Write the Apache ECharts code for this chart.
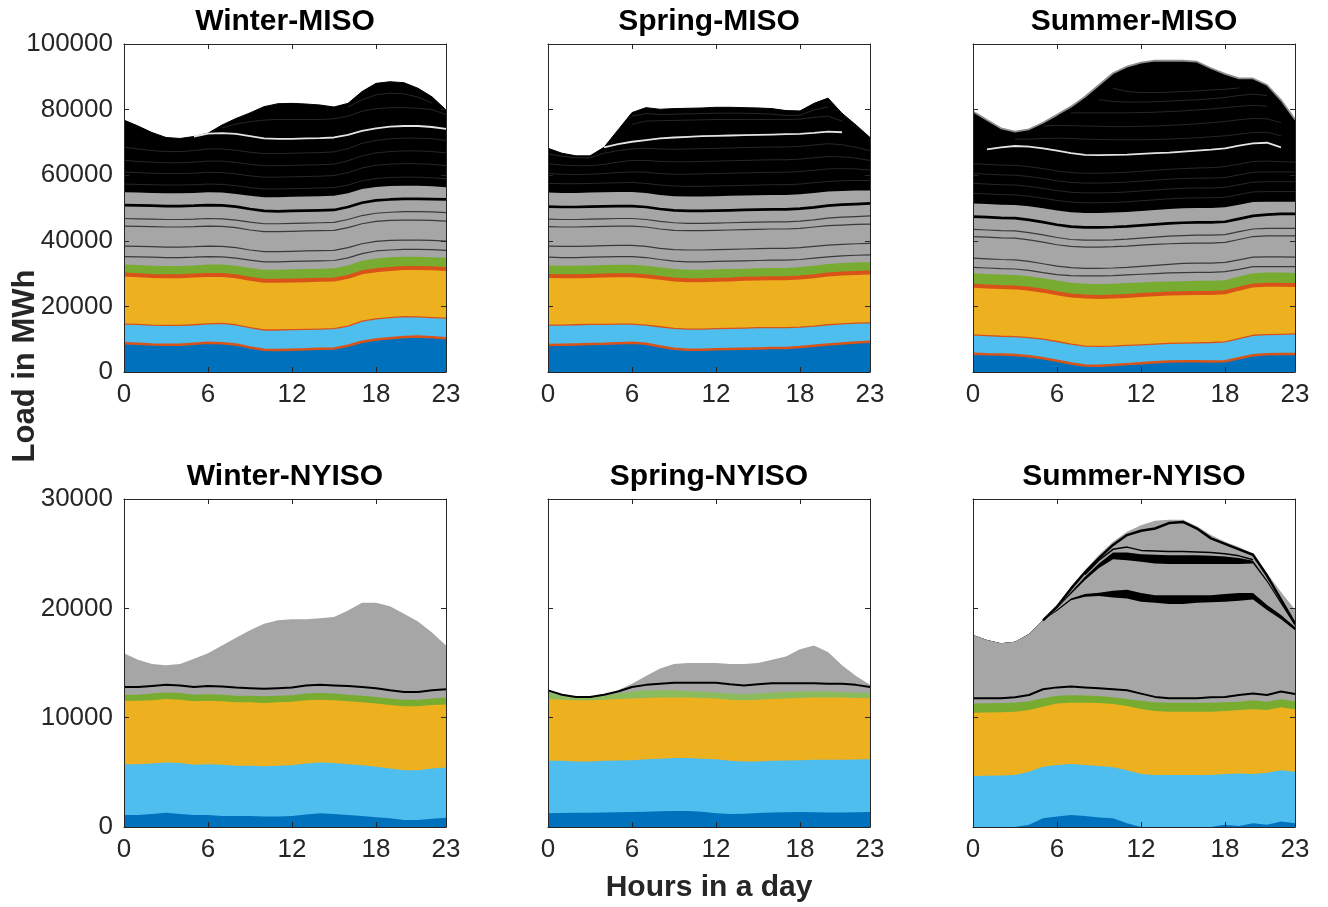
<!DOCTYPE html>
<html><head><meta charset="utf-8">
<script src="https://cdn.jsdelivr.net/npm/echarts@6/dist/echarts.min.js"></script>
<style>html,body{margin:0;padding:0;background:#fff}#c{width:1328px;height:907px}</style>
</head><body><div id="c"></div>
<script>
// ---------- axes / ticks ----------
const hours = ['0','1','2','3','4','5','6','7','8','9','10','11','12','13','14','15','16','17','18','19','20','21','22','23'];
const xTickLabels = ['0','6','12','18','23'];
const misoYMax = 100000, misoYStep = 20000;
const nyisoYMax = 30000, nyisoYStep = 10000;
const titles = ['Winter-MISO','Spring-MISO','Summer-MISO','Winter-NYISO','Spring-NYISO','Summer-NYISO'];
const xAxisTitle = 'Hours in a day';
const yAxisTitle = 'Load in MWh';

// ---------- Winter-MISO (cumulative levels, MWh) ----------
const wmTop = [76800,75000,73000,71500,71200,71800,72800,75300,77300,79000,80900,81800,81900,81700,81400,80800,81900,85500,88000,88500,88200,86500,83900,79900];
const wmWhite = [null,null,null,null,null,71800,72700,72800,72600,71900,71200,71100,71100,71200,71300,71500,72300,73500,74300,74800,75000,75000,74700,74100];
const wmF6 = [null,null,null,null,null,null,null,null,null,null,null,null,null,null,null,null,80800,83000,84500,85000,84800,83800,82000,null];
const wmF5 = [null,null,null,null,null,null,null,74400,75600,76300,76800,77000,77000,77000,77000,77200,78000,79500,80300,80600,80600,80400,80000,78500];
const wmF4 = [68500,68000,67500,67200,67200,67500,68000,68000,67600,67000,66600,66600,66700,66800,66900,67100,68100,69700,70600,71100,71300,71300,71100,70600];
const wmF3 = [64500,64200,64000,63800,63800,64000,64300,64300,63900,63300,62900,62900,63000,63100,63200,63400,64400,65900,66800,67200,67400,67400,67200,66800];
const wmF2 = [61000,60800,60600,60500,60500,60600,60900,60800,60400,59800,59400,59400,59500,59600,59700,59900,60800,62200,63000,63400,63500,63500,63300,62900];
const wmF1 = [57300,57200,57100,57000,57000,57100,57300,57200,56800,56200,55800,55800,55900,56000,56100,56200,57000,58300,59000,59300,59400,59400,59200,58900];
const wmGrayTop = [54800,54700,54600,54500,54500,54600,54800,54700,54300,53700,53300,53300,53400,53500,53600,53700,54500,55800,56400,56700,56800,56800,56600,56300];
const wmThick = [50900,50800,50700,50600,50600,50700,50900,50800,50400,49700,49100,49000,49100,49200,49300,49400,50300,51600,52300,52600,52800,52800,52700,52600];
const wmG4 = [46800,46700,46600,46500,46500,46600,46800,46700,46300,45700,45200,45200,45300,45400,45500,45600,46500,47700,48400,48700,48900,48900,48800,48600];
const wmG3 = [44500,44400,44300,44200,44200,44300,44500,44400,44000,43300,42800,42800,42900,43000,43100,43200,44000,45200,45900,46200,46300,46300,46200,46000];
const wmG2 = [38400,38300,38200,38100,38100,38200,38400,38300,37900,37200,36700,36700,36800,36900,37000,37100,37900,39100,39800,40100,40200,40200,40100,39900];
const wmG1 = [35200,35100,35000,34900,34900,35000,35200,35100,34700,34100,33600,33600,33700,33800,33900,34000,34800,36100,36900,37200,37400,37400,37300,37100];
const wmGreen = [32800,32600,32400,32300,32300,32500,32800,32800,32400,31700,31200,31200,31300,31400,31500,31600,32500,33900,34600,35000,35100,35100,35000,34800];
const wmOrange = [29700,29500,29300,29200,29200,29400,29600,29600,29200,28400,27800,27800,27900,28000,28100,28200,29000,30400,31000,31400,31700,31700,31600,31400];
const wmLightBlue = [14600,14500,14300,14200,14200,14400,14700,14800,14400,13500,12800,12800,12900,13000,13100,13200,14000,15500,16200,16600,16900,16800,16600,16400];
const wmDarkBlue = [8800,8600,8400,8300,8300,8600,8900,8800,8400,7500,6800,6700,6800,6900,7100,7200,8000,9200,9900,10300,10700,10800,10600,10300];

// ---------- Spring-MISO ----------
const smTop = [68200,66700,65900,65900,68500,73800,79100,80600,80100,80300,80400,80500,80700,80700,80600,80500,80300,79700,79600,81900,83500,78900,75300,71500];
const smWhite = [null,null,null,null,68500,69500,70200,70700,71200,71500,71700,71900,72000,72100,72200,72300,72400,72500,72600,72900,73300,73100,null,null];
const smF6 = [null,null,null,null,null,null,78000,78800,78500,78600,78700,78800,78900,78900,78900,78800,78600,78200,78300,79900,80800,null,null,null];
const smF5 = [null,null,null,null,null,null,75500,76500,76600,76700,76800,76900,77000,77000,77000,77000,77000,77000,77100,77600,78000,76500,null,null];
const smF4 = [66500,65800,65300,65300,66700,67500,68000,68200,68000,67900,68000,68100,68200,68300,68400,68500,68600,68600,68800,69200,69600,69300,68500,67500];
const smF3 = [63500,63100,62900,62900,63300,64000,64500,64500,64200,64100,64100,64200,64300,64400,64500,64600,64700,64700,64900,65300,65700,65600,65200,64500];
const smF2 = [60500,60300,60200,60300,60500,60800,61000,60900,60500,60300,60300,60400,60500,60600,60700,60800,60900,60900,61100,61500,61900,62000,61900,61600];
const smF1 = [57500,57400,57400,57500,57600,57700,57800,57500,57000,56700,56600,56600,56700,56800,56900,57000,57100,57100,57300,57700,58100,58300,58400,58400];
const smGrayTop = [54700,54600,54600,54700,54800,54900,54900,54600,54000,53600,53500,53500,53600,53700,53800,53900,54000,54000,54200,54600,55000,55200,55300,55300];
const smThick = [50400,50300,50300,50400,50500,50600,50600,50300,49700,49300,49100,49100,49200,49300,49400,49500,49600,49600,49800,50200,50700,51000,51200,51400];
const smG4 = [46600,46500,46500,46600,46700,46800,46800,46500,45900,45500,45300,45300,45400,45500,45600,45700,45800,45800,46000,46400,46900,47200,47400,47600];
const smG3 = [44300,44200,44200,44300,44400,44500,44500,44200,43600,43200,43100,43100,43200,43300,43400,43500,43600,43600,43800,44200,44600,44800,45000,45100];
const smG2 = [38400,38300,38300,38400,38500,38600,38600,38300,37700,37300,37200,37200,37300,37400,37500,37600,37700,37700,37900,38300,38700,38900,39100,39200];
const smG1 = [35000,34900,34900,35000,35100,35200,35200,34900,34300,33800,33600,33600,33700,33800,33900,34000,34100,34100,34300,34700,35100,35400,35600,35700];
const smGreen = [32500,32400,32400,32500,32600,32700,32700,32400,31900,31400,31200,31200,31300,31400,31500,31600,31700,31700,32000,32400,32900,33200,33400,33500];
const smOrange = [29300,29200,29200,29300,29400,29500,29500,29200,28700,28200,28000,28000,28100,28200,28400,28500,28600,28600,28800,29200,29700,30000,30200,30300];
const smLightBlue = [14300,14300,14400,14500,14500,14600,14600,14300,13800,13300,13100,13100,13200,13300,13400,13500,13500,13500,13700,14000,14400,14700,14900,15000];
const smDarkBlue = [8200,8300,8400,8500,8600,8800,8900,8600,7800,7100,6800,6800,6900,7000,7100,7200,7300,7300,7600,8000,8400,8700,9000,9200];

// ---------- Summer-MISO ----------
const umTop = [79400,76800,74300,73300,74000,76000,78400,80900,83900,87500,91100,93100,94300,94900,94900,94900,94600,92600,90900,89500,89500,87500,82900,77000];
const umF9 = [null,null,null,null,null,null,null,null,null,null,86500,85500,85200,85200,85300,85500,85700,86000,86200,86600,null,null,null,null];
const umF8 = [null,null,null,null,null,null,null,null,null,83000,82500,82300,82300,82400,82600,82800,83000,83300,83700,84300,84700,84300,null,null];
const umF7 = [null,null,null,null,null,null,null,79000,79000,79000,79000,79000,79100,79200,79400,79600,79900,80200,80600,81000,81300,81000,null,null];
const umF6 = [null,null,null,null,null,75000,75200,75100,75000,74900,74800,74800,74900,75000,75200,75400,75700,76000,76400,76900,77300,77200,76000,null];
const umF5 = [null,null,null,71000,71000,71200,71300,71200,71000,70900,70800,70800,70800,70900,71000,71200,71400,71700,72000,72500,73000,73100,72000,null];
const umWhite = [null,67900,68500,68900,68700,68200,67500,66700,66200,66100,66200,66300,66500,66700,66900,67200,67500,67800,68200,69000,69700,69900,68500,null];
const umF4 = [63500,63300,63100,63000,62600,62000,61300,60800,60600,60600,60700,60900,61200,61500,61800,62000,62200,62300,62600,63400,64200,64300,64100,64000];
const umF3 = [60500,60300,60100,60000,59600,59000,58300,57800,57600,57600,57700,57900,58200,58500,58800,59000,59100,59100,59300,60100,60900,61000,61000,61000];
const umF2 = [57500,57300,57100,57000,56600,56000,55300,54800,54600,54600,54700,54900,55200,55500,55800,56000,56100,56100,56300,57100,57900,58000,58000,58000];
const umF1 = [54500,54300,54100,54000,53600,53000,52300,51800,51600,51600,51700,51900,52200,52500,52800,53000,53100,53100,53300,54100,54900,55000,55000,55000];
const umGrayTop = [51400,51200,51000,50900,50500,49900,49200,48700,48500,48500,48600,48800,49100,49400,49700,49900,50000,50000,50200,51000,51800,51900,51900,51900];
const umThick = [47400,47200,47000,46900,46400,45700,44900,44300,44100,44100,44200,44400,44700,45000,45300,45500,45600,45600,45800,46700,47600,48000,48200,48200];
const umG4 = [43500,43300,43100,43000,42500,41800,41000,40400,40200,40200,40300,40500,40800,41100,41400,41600,41700,41700,41900,42800,43600,43800,43800,43800];
const umG3 = [41300,41100,40900,40800,40300,39600,38800,38300,38100,38100,38200,38400,38700,38900,39100,39200,39300,39300,39500,40400,41300,41500,41500,41500];
const umG2 = [34700,34500,34300,34200,33700,33000,32300,31800,31600,31600,31700,31900,32200,32500,32800,33100,33200,33200,33400,34200,35000,35100,35100,35000];
const umG1 = [31900,31700,31500,31400,31000,30300,29700,29400,29300,29300,29400,29600,29800,30000,30200,30300,30400,30400,30600,31300,32100,32100,32100,32100];
const umGreen = [30100,29900,29700,29600,29200,28600,27900,27200,26900,26800,26900,27100,27300,27500,27600,27700,27800,27800,28000,29100,30100,30300,30300,30200];
const umOrange = [26300,26100,25900,25800,25400,24800,24000,23300,23000,22900,23000,23200,23500,23700,23900,24000,24100,24100,24300,25400,26400,26600,26600,26500];
const umLightBlue = [11300,11100,10900,10800,10500,10000,9300,8500,7900,7800,7900,8100,8300,8500,8700,8800,8900,9000,9200,10200,11200,11400,11500,11600];
const umDarkBlue = [5600,5400,5300,5200,4800,4200,3400,2600,2000,1900,2100,2400,2700,3000,3200,3300,3300,3200,3300,4200,5100,5400,5500,5500];

// ---------- Winter-NYISO ----------
const wnTop = [15900,15300,14900,14800,14900,15400,15900,16600,17300,18000,18600,18900,19000,19000,19100,19200,19800,20500,20500,20200,19500,18800,17800,16600];
const wnBlack = [12800,12800,12900,13000,12950,12800,12900,12850,12750,12700,12650,12700,12750,12950,13000,12950,12900,12800,12700,12500,12350,12350,12500,12600];
const wnGreen = [12100,12100,12200,12300,12250,12100,12150,12100,12000,12000,11950,12000,12050,12200,12250,12200,12100,12000,11900,11750,11650,11650,11750,11850];
const wnOrange = [11550,11550,11600,11700,11650,11500,11550,11500,11400,11400,11350,11400,11450,11600,11650,11600,11500,11400,11300,11150,11050,11050,11150,11200];
const wnLightBlue = [5750,5750,5800,5900,5850,5700,5750,5700,5600,5600,5550,5600,5650,5800,5900,5850,5750,5650,5500,5350,5200,5200,5350,5450];
const wnDarkBlue = [1100,1100,1200,1300,1200,1100,1100,1000,1000,1000,950,950,1000,1150,1250,1200,1100,1000,900,800,650,650,750,850];

// ---------- Spring-NYISO ----------
const snTop = [12500,12100,11900,11900,12100,12500,13100,13800,14500,14900,15000,15000,15000,14900,14900,15000,15300,15600,16250,16600,16000,14800,13800,13000];
const snBlack = [12500,12100,11900,11900,12100,12400,12800,13000,13100,13200,13200,13200,13200,13050,12950,13050,13150,13150,13150,13150,13100,13100,13000,12800];
const snGreen = [12300,12000,11850,11850,12000,12200,12400,12500,12500,12500,12450,12400,12300,12200,12150,12200,12300,12350,12400,12400,12400,12350,12300,12250];
const snOrange = [11700,11650,11600,11600,11650,11700,11750,11800,11850,11850,11850,11800,11750,11650,11600,11650,11700,11750,11800,11850,11850,11850,11800,11800];
const snLightBlue = [6070,6050,6000,6000,6050,6080,6100,6200,6250,6300,6300,6250,6200,6050,6000,6000,6050,6080,6100,6150,6150,6150,6180,6200];
const snDarkBlue = [1250,1270,1300,1300,1320,1350,1370,1400,1430,1460,1460,1400,1250,1200,1220,1270,1320,1350,1370,1350,1330,1330,1350,1370];

// ---------- Summer-NYISO ----------
const unTop = [17560,17100,16800,16950,17650,18900,20300,22000,23500,24900,26100,27000,27600,28000,28100,28100,27500,26700,26100,25600,25000,23200,21500,19900];
const unLineA = [null,null,null,null,null,18900,20150,21800,23300,24600,25800,26700,27100,27300,27800,27900,27300,26400,25900,25400,24900,23000,20800,18600];
const unBThin = [null,null,null,null,null,null,null,null,23100,24400,25400,25600,25300,25250,25200,25200,25150,25100,25000,24800,24450,null,null,null];
const unBandBHi = [17560,17100,16800,16950,17650,18900,20100,21500,22900,24100,25100,25100,24950,24900,24850,24850,24850,24800,24750,24600,24350,22600,20600,18600];
const unBandBLo = [17560,17100,16800,16950,17650,18900,20000,21300,22600,23700,24500,24400,24250,24100,24050,24050,24050,24050,24050,24050,24100,22400,20400,18400];
const unBandCHi = [17560,17100,16800,16950,17650,18900,19900,20900,21300,21430,21600,21700,21400,21200,21200,21200,21200,21200,21300,21400,21400,20300,19400,18300];
const unBandCLo = [17560,17100,16800,16950,17650,18900,19750,20750,21070,21130,21000,20900,20600,20500,20400,20400,20500,20550,20600,20700,20800,19850,19000,18000];
const unBlack = [11770,11770,11770,11860,12070,12600,12770,12840,12770,12700,12600,12500,12200,11900,11770,11770,11770,11860,11900,12070,12200,12070,12400,12160];
const unGreen = [11300,11320,11340,11370,11500,11770,12000,12050,12020,11980,11860,11700,11550,11400,11370,11370,11370,11370,11400,11460,11600,11460,11680,11500];
const unOrange = [10460,10480,10500,10550,10700,11000,11300,11370,11370,11350,11250,11070,10800,10600,10550,10550,10550,10550,10600,10700,10760,10700,10950,10760];
const unLightBlue = [4660,4680,4700,4760,5060,5500,5670,5760,5670,5580,5460,5200,4850,4760,4760,4760,4760,4760,4850,4900,4850,4970,5200,5060];
const unDarkBlue = [0,0,0,0,200,800,950,1100,1000,880,800,340,0,0,0,0,0,0,200,100,350,200,500,350];

// ---------- styling ----------
const COL = {dblue:'#0072BD', lblue:'#4DBEEE', orange:'#EDB120', red:'#D95319', green:'#77AC30', lgreen:'#8CBB5E',
  gray:'#A6A6A6', black:'#000000', white:'#E4E4E4', faint:'rgba(120,120,120,0.55)', dk:'#3A3A3A', axis:'#262626'};
const FONT = "'Liberation Sans', Arial, Helvetica, sans-serif";

const panels = [
  {areas:[[wmTop,COL.black,COL.black,1],[wmGrayTop,COL.gray],[wmGreen,COL.green],[wmOrange,COL.orange,COL.red,4],[wmLightBlue,COL.lblue,COL.red,1.3],[wmDarkBlue,COL.dblue,COL.red,2.5]],
   lines:[[wmF1,COL.faint,0.6],[wmF2,COL.faint,0.6],[wmF3,COL.faint,0.6],[wmF4,COL.faint,0.6],[wmF5,COL.faint,0.6],[wmF6,COL.faint,0.6],[wmWhite,COL.white,1.8],
          [wmThick,COL.black,2.7],[wmG4,COL.dk,1.2],[wmG3,COL.dk,1.2],[wmG2,COL.dk,1.2],[wmG1,COL.dk,1.2]]},
  {areas:[[smTop,COL.black,COL.black,1],[smGrayTop,COL.gray],[smGreen,COL.green],[smOrange,COL.orange,COL.red,4],[smLightBlue,COL.lblue,COL.red,1.3],[smDarkBlue,COL.dblue,COL.red,2.5]],
   lines:[[smF1,COL.faint,0.6],[smF2,COL.faint,0.6],[smF3,COL.faint,0.6],[smF4,COL.faint,0.6],[smF5,COL.faint,0.6],[smF6,COL.faint,0.6],[smWhite,COL.white,1.8],
          [smThick,COL.black,2.7],[smG4,COL.dk,1.2],[smG3,COL.dk,1.2],[smG2,COL.dk,1.2],[smG1,COL.dk,1.2]]},
  {areas:[[umTop,COL.black,'#8C8C8C',1.8],[umGrayTop,COL.gray],[umGreen,COL.green],[umOrange,COL.orange,COL.red,4],[umLightBlue,COL.lblue,COL.red,1.3],[umDarkBlue,COL.dblue,COL.red,2.5]],
   lines:[[umF1,COL.faint,0.6],[umF2,COL.faint,0.6],[umF3,COL.faint,0.6],[umF4,COL.faint,0.6],[umF5,COL.faint,0.6],[umF6,COL.faint,0.6],[umF7,COL.faint,0.6],[umF8,COL.faint,0.6],[umF9,COL.faint,0.6],[umWhite,COL.white,1.8],
          [umThick,COL.black,2.7],[umG4,COL.dk,1.2],[umG3,COL.dk,1.2],[umG2,COL.dk,1.2],[umG1,COL.dk,1.2]]},
  {areas:[[wnTop,COL.gray],[wnGreen,COL.green],[wnOrange,COL.orange],[wnLightBlue,COL.lblue],[wnDarkBlue,COL.dblue]],
   lines:[[wnBlack,COL.black,2]]},
  {areas:[[snTop,COL.gray],[snGreen,COL.lgreen],[snOrange,COL.orange],[snLightBlue,COL.lblue],[snDarkBlue,COL.dblue]],
   lines:[[snBlack,COL.black,2]]},
  {areas:[[unTop,COL.gray],[unBandBHi,COL.black],[unBandBLo,COL.gray],[unBandCHi,COL.black],[unBandCLo,COL.gray],[unGreen,COL.green],[unOrange,COL.orange],[unLightBlue,COL.lblue],[unDarkBlue,COL.dblue]],
   lines:[[unLineA,COL.black,2.5],[unBThin,COL.black,1.5],[unBlack,COL.black,2]]}
];

const gridLefts = [124, 548, 973];
const gridTops = [44, 499];
const GW = 322, GH = 328;

const showX = (i) => xTickLabels.indexOf(hours[i]) >= 0;
const grids = [], xAxes = [], yAxes = [], series = [], graphics = [];
panels.forEach((p, k) => {
  const col = k % 3, row = Math.floor(k / 3);
  grids.push({left: gridLefts[col], top: gridTops[row], width: GW, height: GH, containLabel: false});
  const axisLine = {show: true, onZero: false, lineStyle: {color: COL.axis, width: 1}};
  const axisTick = {show: true, inside: true, length: 5, lineStyle: {color: COL.axis, width: 1}};
  const lbl = {color: COL.axis, fontSize: 26, fontFamily: FONT};
  xAxes.push({gridIndex: k, type: 'category', data: hours, boundaryGap: false, position: 'bottom', z: 50,
    axisLine, axisTick: Object.assign({interval: showX}, axisTick),
    axisLabel: Object.assign({interval: showX, margin: 10}, lbl), splitLine: {show: false}});
  xAxes.push({gridIndex: k, type: 'category', data: hours, boundaryGap: false, position: 'top', z: 50,
    axisLine, axisTick: Object.assign({interval: showX}, axisTick), axisLabel: {show: false}, splitLine: {show: false}});
  const ymax = row === 0 ? misoYMax : nyisoYMax, ystep = row === 0 ? misoYStep : nyisoYStep;
  yAxes.push({gridIndex: k, type: 'value', min: 0, max: ymax, interval: ystep, position: 'left', z: 50,
    axisLine, axisTick, splitLine: {show: false},
    axisLabel: Object.assign({show: col === 0, margin: 11, formatter: (v) => String(v)}, lbl)});
  yAxes.push({gridIndex: k, type: 'value', min: 0, max: ymax, interval: ystep, position: 'right', z: 50,
    axisLine, axisTick, splitLine: {show: false}, axisLabel: {show: false}});
  let z = 10;
  p.areas.forEach(([data, fill, lc, lw]) => {
    series.push({type: 'line', xAxisIndex: 2 * k, yAxisIndex: 2 * k, data, z: z++, symbol: 'none', showSymbol: false,
      smooth: false, silent: true, animation: false, emphasis: {disabled: true},
      lineStyle: lc ? {color: lc, width: lw} : {color: fill, width: 0.01, opacity: 0},
      areaStyle: {color: fill, opacity: 1}});
  });
  z = 30;
  p.lines.forEach(([data, lc, lw]) => {
    series.push({type: 'line', xAxisIndex: 2 * k, yAxisIndex: 2 * k, data, z: z++, symbol: 'none', showSymbol: false,
      smooth: false, silent: true, animation: false, emphasis: {disabled: true}, connectNulls: false,
      lineStyle: {color: lc, width: lw}});
  });
  graphics.push({type: 'text', x: gridLefts[col] + GW / 2, y: row === 0 ? 22 : 477, z: 100,
    style: {text: titles[k], font: 'bold 30px ' + FONT, fill: '#000', textAlign: 'center', textVerticalAlign: 'middle'}});
});
graphics.push({type: 'text', x: 709, y: 888, z: 100,
  style: {text: xAxisTitle, font: 'bold 30px ' + FONT, fill: COL.axis, textAlign: 'center', textVerticalAlign: 'middle'}});
graphics.push({type: 'text', x: 25, y: 366, rotation: Math.PI / 2, z: 100,
  style: {text: yAxisTitle, font: 'bold 31px ' + FONT, fill: COL.axis, textAlign: 'center', textVerticalAlign: 'middle'}});

const chart = echarts.init(document.getElementById('c'), null, {renderer: 'canvas'});
chart.setOption({animation: false, backgroundColor: '#fff', grid: grids, xAxis: xAxes, yAxis: yAxes, series, graphic: graphics});
</script></body></html>
